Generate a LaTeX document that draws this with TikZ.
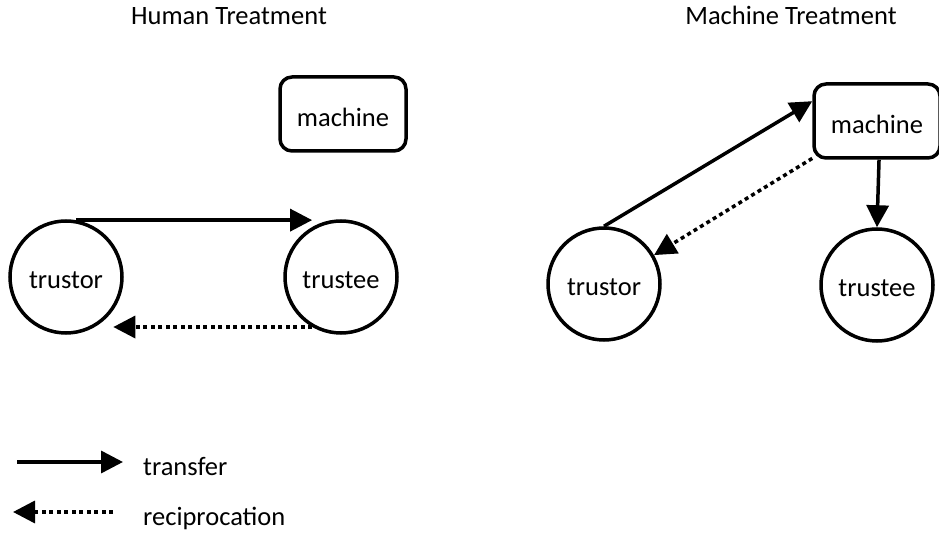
\documentclass[tikz,border=0pt]{standalone}
\usepackage{fontspec}
\setmainfont{Carlito}
\usetikzlibrary{arrows.meta, calc}

\tikzset{
    actor/.style={circle, draw, line width=3.5pt, minimum size=112pt, inner sep=0pt,
        text height=24pt, text depth=0pt, font=\fontsize{26.5}{30}\selectfont},
    mbox/.style={rectangle, draw, line width=3.5pt, rounded corners=12pt,
        minimum width=126pt, minimum height=74pt, inner sep=0pt,
        text height=25pt, text depth=0pt, font=\fontsize{26.5}{30}\selectfont},
    label/.style={inner sep=0pt, font=\fontsize{26.5}{30}\selectfont},
    transfer/.style={line width=3.5pt, -{Triangle[length=22pt,width=22pt]}},
    recip/.style={line width=3.5pt, dash pattern=on 4pt off 3.5pt,
        -{Triangle[length=22pt,width=22pt]}}
}

\begin{document}
\begin{tikzpicture}[x=1pt, y=-1pt]
    \useasboundingbox (0,0) rectangle (939,534);

    % --- 1. Titles ---
    \node[label, anchor=base] (htitle) at (229,25) {Human Treatment};
    \node[label, anchor=base] (mtitle) at (791,25) {Machine Treatment};

    % --- 2. Human treatment ---
    \node[mbox] (hmachine) at (343,114) {machine};
    \node[actor] (htrustor) at (66,277) {trustor};
    \node[actor] (htrustee) at (341,277) {trustee};

    \draw[transfer] (htrustor.80) -- (htrustor.80 -| htrustee.120);
    \draw[recip] (htrustee.240) -- (htrustee.240 -| htrustor.-35);

    % --- 3. Machine treatment ---
    \node[mbox] (mmachine) at (877,121) {machine};
    \node[actor] (mtrustor) at (604,284) {trustor};
    \node[actor] (mtrustee) at (877,285) {trustee};

    \draw[transfer] (mtrustor.north) -- (mmachine.163);
    \draw[recip] (mmachine.210) -- (mtrustor.30);
    \draw[transfer] (mmachine.-87) -- (mtrustee.north);

    % --- 4. Legend ---
    \node[label, anchor=base west] (ltransfer) at (143,475) {transfer};
    \node[label, anchor=base west] (lrecip) at (143,525) {reciprocation};
    \coordinate (lt1) at (17,462);
    \coordinate (lt2) at (123,462);
    \coordinate (lr1) at (113,512);
    \coordinate (lr2) at (13,512);
    \draw[transfer] (lt1) -- (lt2);
    \draw[recip] (lr1) -- (lr2);

\end{tikzpicture}
\end{document}
